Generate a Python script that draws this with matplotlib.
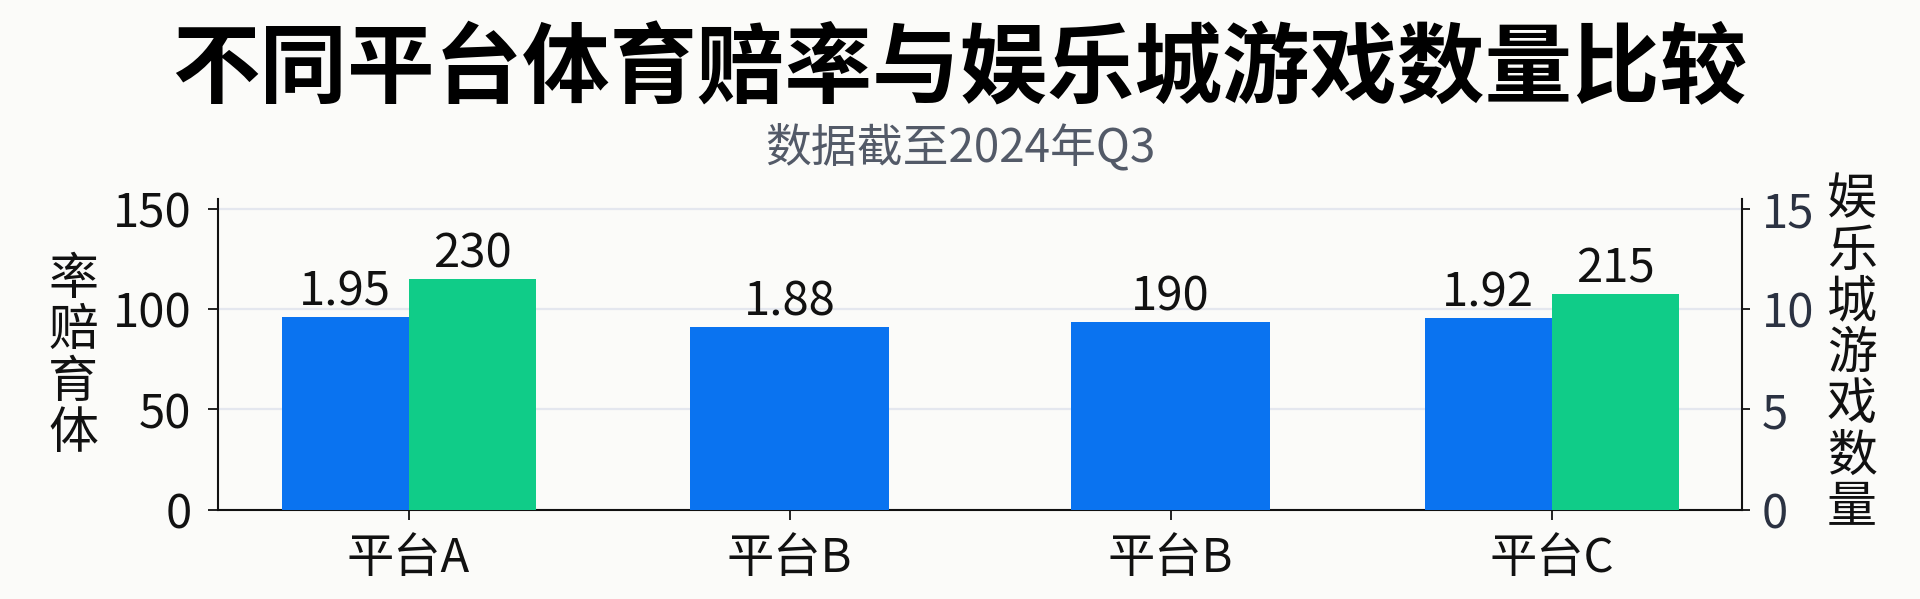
import matplotlib
matplotlib.use("Agg")
import matplotlib.pyplot as plt
import numpy as np

plt.rcParams['font.family'] = ['Noto Sans CJK SC', 'DejaVu Sans']

# ---- data ----
categories = ["平台A", "平台B", "平台B", "平台C"]
odds_heights = [96.1, 91.1, 93.6, 95.6]          # blue bars (left axis)
odds_labels = ["1.95", "1.88", "190", "1.92"]
games_heights = [11.5, None, None, 10.75]        # green bars (right axis)
games_labels = ["230", None, None, "215"]
left_ticks = [0, 50, 100, 150]
right_ticks = [0, 5, 10, 15]

title = "不同平台体育赔率与娱乐城游戏数量比较"
subtitle = "数据截至2024年Q3"
left_label = "体育赔率"
right_label = "娱乐城游戏数量"

BLUE = "#0A73F0"
GREEN = "#10CC88"
BG = "#FBFBF9"

W, H = 1920, 599
fig = plt.figure(figsize=(W / 100, H / 100), dpi=100, facecolor=BG)

ax_l, ax_r_px, ax_b_px, ax_t_px = 218, 1742, 509.5, 199
ax = fig.add_axes([ax_l / W, 1 - ax_b_px / H, (ax_r_px - ax_l) / W, (ax_b_px - ax_t_px) / H])
ax.set_facecolor(BG)
ax2 = ax.twinx()

x = np.arange(len(categories))
pair_w = 1 / 3
single_w = 0.52
FS = 34
offset_pt = 8.5

for i in range(len(categories)):
    has_pair = games_heights[i] is not None
    if has_pair:
        bx = x[i] - pair_w / 2
        bw = pair_w
    else:
        bx = x[i]
        bw = single_w
    ax.bar(bx, odds_heights[i], width=bw, color=BLUE, zorder=3)
    ax.annotate(odds_labels[i], (bx, odds_heights[i]), xytext=(0, offset_pt),
                textcoords="offset points", ha="center", va="baseline",
                fontsize=FS, color="#111111", zorder=5)
    if has_pair:
        gx = x[i] + pair_w / 2
        ax2.bar(gx, games_heights[i], width=pair_w, color=GREEN, zorder=3)
        ax2.annotate(games_labels[i], (gx, games_heights[i]), xytext=(0, offset_pt),
                     textcoords="offset points", ha="center", va="baseline",
                     fontsize=FS, color="#111111", zorder=5)

ax.set_xlim(-0.5, 3.5)
ax.set_ylim(0, 155)
ax2.set_ylim(0, 15.5)
ax.set_xticks(x)
ax.set_xticklabels(categories)
ax.set_yticks(left_ticks)
ax2.set_yticks(right_ticks)

ax.grid(axis="y", color="#E4E7EF", linewidth=1.6, zorder=0)
ax.set_axisbelow(True)

for a in (ax, ax2):
    a.spines["top"].set_visible(False)
    for s in ("left", "right", "bottom"):
        a.spines[s].set_linewidth(1.5)
        a.spines[s].set_color("#111111")
ax.spines["right"].set_visible(False)
ax2.spines["left"].set_visible(False)
ax2.spines["bottom"].set_visible(False)

ax.tick_params(axis="y", length=7, width=1.3, pad=12, labelsize=FS, labelcolor="#111111", color="#111111")
ax.tick_params(axis="x", length=7, width=1.3, pad=11, labelsize=FS, labelcolor="#111111", color="#111111")
ax2.tick_params(axis="y", length=6, width=1.3, pad=8, labelsize=FS, labelcolor="#2B3242", color="#111111")

fig.text(0.5, 1 - 71 / H, title, ha="center", va="center", fontsize=63,
         fontweight="heavy", color="#000000")
fig.text(0.5, 1 - 148 / H, subtitle, ha="center", va="center", fontsize=33,
         color="#535A68")

fig.text(73 / W, 1 - 357 / H, "\n".join(reversed(left_label)), ha="center", va="center",
         fontsize=36, linespacing=0.98, color="#111111")
fig.text(1852 / W, 1 - 354 / H, "\n".join(right_label), ha="center", va="center",
         fontsize=36, linespacing=0.98, color="#111111")

fig.savefig("out.png", dpi=100, facecolor=BG)
